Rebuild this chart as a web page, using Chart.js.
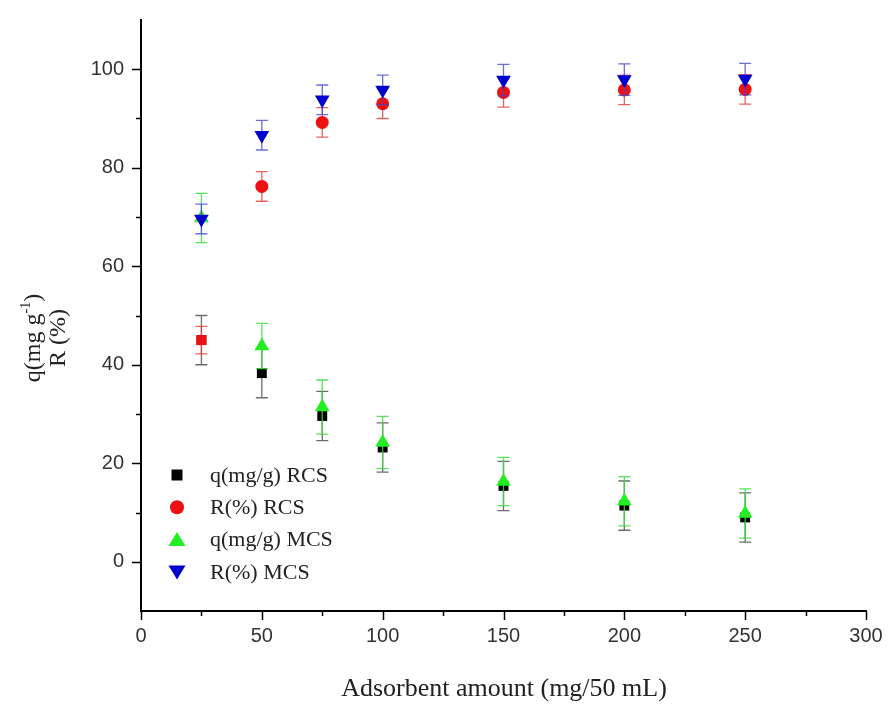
<!DOCTYPE html>
<html>
<head>
<meta charset="utf-8">
<script src="https://cdn.jsdelivr.net/npm/chart.js@4.4.1/dist/chart.umd.min.js"></script>
<style>
  html, body { margin: 0; padding: 0; background: #fff; }
  #wrap { width: 893px; height: 706px; }
</style>
</head>
<body>
<div id="wrap"><canvas id="adsChart" width="893" height="706"></canvas></div>
<script>
// Adsorbent dose (mg / 50 mL)
const doses = [25, 50, 75, 100, 150, 200, 250];

// RCS series
const qRCS = [45, 38.3, 29.6, 23.2, 15.4, 11.4, 9.0];
const qRCSErr = [5, 5, 5, 5, 5, 5, 5];
const rRCS = [45, 76.2, 89.2, 93.0, 95.3, 95.8, 95.9];
const rRCSErr = [2.8, 3, 3, 3, 3, 3, 3];

// MCS series
const qMCS = [69.8, 43.8, 31.4, 24.2, 16.3, 12.3, 9.8];
const qMCSErr = [5, 4.6, 5.5, 5.3, 4.9, 5, 5];
const rMCS = [69.6, 86.6, 93.8, 95.8, 97.8, 97.9, 98.0];
const rMCSErr = [3, 3, 3, 3, 3.2, 3.2, 3.2];

const yTicks = [0, 20, 40, 60, 80, 100];
const xTicks = [0, 50, 100, 150, 200, 250, 300];

const SERIF = '"Liberation Serif", "Times New Roman", serif';
const SANS = '"Liberation Sans", Arial, sans-serif';

function pts(vals) {
    return doses.map((x, i) => ({ x: x, y: vals[i] }));
}

// Error bars under each dataset's markers
const errorBars = {
    id: 'errorBars',
    beforeDatasetDraw(chart, args) {
        const ds = chart.data.datasets[args.index];
        if (!ds.errors) return;
        const ctx = chart.ctx;
        const ys = chart.scales.y;
        ctx.save();
        ctx.strokeStyle = ds.errorColor;
        ctx.lineWidth = 1.3;
        args.meta.data.forEach((el, i) => {
            const v = ds.data[i].y;
            const e = ds.errors[i];
            const top = ys.getPixelForValue(v + e);
            const bot = ys.getPixelForValue(v - e);
            const x = el.x;
            ctx.beginPath();
            ctx.moveTo(x, top); ctx.lineTo(x, bot);
            ctx.moveTo(x - 6, top); ctx.lineTo(x + 6, top);
            ctx.moveTo(x - 6, bot); ctx.lineTo(x + 6, bot);
            ctx.stroke();
        });
        ctx.restore();
    }
};

function drawMarker(ctx, style, x, y, color) {
    ctx.fillStyle = color;
    ctx.beginPath();
    if (style === 'rect') {
        ctx.rect(x - 5.5, y - 5.5, 11, 11);
    } else if (style === 'circle') {
        ctx.arc(x, y, 7, 0, Math.PI * 2);
    } else if (style === 'up') {
        ctx.moveTo(x - 8.5, y + 6.5); ctx.lineTo(x + 8.5, y + 6.5); ctx.lineTo(x, y - 7.5);
    } else {
        ctx.moveTo(x - 8.5, y - 6.5); ctx.lineTo(x + 8.5, y - 6.5); ctx.lineTo(x, y + 7.5);
    }
    ctx.closePath();
    ctx.fill();
}

// Axis ticks, titles and the in-plot legend
const decorations = {
    id: 'decorations',
    afterDraw(chart) {
        const ctx = chart.ctx;
        const xs = chart.scales.x, ys = chart.scales.y;
        const area = chart.chartArea;
        ctx.save();
        ctx.strokeStyle = '#000';
        ctx.lineWidth = 1.5;
        ctx.beginPath();
        for (let v = 0; v <= 100; v += 10) {
            const py = Math.round(ys.getPixelForValue(v)) + 0.5;
            const len = v % 20 === 0 ? 9 : 5;
            ctx.moveTo(area.left - len, py); ctx.lineTo(area.left, py);
        }
        for (let v = 0; v <= 300; v += 25) {
            const px = Math.round(xs.getPixelForValue(v)) + 0.5;
            const len = v % 50 === 0 ? 9 : 5;
            ctx.moveTo(px, area.bottom); ctx.lineTo(px, area.bottom + len);
        }
        ctx.stroke();

        // x title
        ctx.fillStyle = '#222';
        ctx.font = '26px ' + SERIF;
        ctx.textAlign = 'center';
        ctx.textBaseline = 'alphabetic';
        ctx.fillText('Adsorbent amount (mg/50 mL)', 504, 696);

        // y title, two rotated lines
        ctx.save();
        ctx.translate(40, 338);
        ctx.rotate(-Math.PI / 2);
        const a = 'q(mg g', sup = '-1', b = ')';
        ctx.font = '24px ' + SERIF;
        const wa = ctx.measureText(a).width, wb = ctx.measureText(b).width;
        ctx.font = '14px ' + SERIF;
        const ws = ctx.measureText(sup).width;
        const sx = -(wa + ws + wb) / 2;
        ctx.textAlign = 'left';
        ctx.font = '24px ' + SERIF;
        ctx.fillText(a, sx, 0);
        ctx.font = '14px ' + SERIF;
        ctx.fillText(sup, sx + wa, -10);
        ctx.font = '24px ' + SERIF;
        ctx.fillText(b, sx + wa + ws, 0);
        ctx.textAlign = 'center';
        ctx.fillText('R (%)', 0, 25);
        ctx.restore();

        // legend
        const legend = [
            ['rect', '#000', 'q(mg/g) RCS'],
            ['circle', '#ee1111', 'R(%) RCS'],
            ['up', '#22ee22', 'q(mg/g) MCS'],
            ['down', '#0000cc', 'R(%) MCS']
        ];
        ctx.font = '22px ' + SERIF;
        ctx.textAlign = 'left';
        ctx.textBaseline = 'middle';
        legend.forEach((row, i) => {
            const ly = 475 + i * 32.3;
            drawMarker(ctx, row[0], 177, ly, row[1]);
            ctx.fillStyle = '#222';
            ctx.fillText(row[2], 210, ly + 1);
        });
        ctx.restore();
    }
};

const ctx = document.getElementById('adsChart').getContext('2d');
new Chart(ctx, {
    type: 'scatter',
    data: {
        datasets: [
            {
                label: 'q(mg/g) RCS', data: pts(qRCS), errors: qRCSErr, errorColor: 'rgba(60,60,60,0.75)',
                pointStyle: 'rect', pointRadius: 7, backgroundColor: '#000', borderWidth: 0, order: 4
            },
            {
                label: 'R(%) RCS', data: pts(rRCS), errors: rRCSErr, errorColor: 'rgba(220,60,60,0.8)',
                pointStyle: ['rect', 'circle', 'circle', 'circle', 'circle', 'circle', 'circle'],
                pointRadius: [7, 6.5, 6.5, 6.5, 6.5, 6.5, 6.5], backgroundColor: '#ee1111', borderWidth: 0, order: 3
            },
            {
                label: 'q(mg/g) MCS', data: pts(qMCS), errors: qMCSErr, errorColor: 'rgba(60,220,60,0.85)',
                pointStyle: 'triangle', pointRadius: 8.5, backgroundColor: '#22ee22', borderWidth: 0, order: 2
            },
            {
                label: 'R(%) MCS', data: pts(rMCS), errors: rMCSErr, errorColor: 'rgba(70,70,210,0.8)',
                pointStyle: 'triangle', rotation: 180, pointRadius: 8.5, backgroundColor: '#0000cc', borderWidth: 0, order: 1
            }
        ]
    },
    options: {
        responsive: false,
        animation: false,
        layout: { padding: { top: 17, right: 27, left: 0, bottom: 0 } },
        plugins: { legend: { display: false }, tooltip: { enabled: false } },
        scales: {
            x: {
                type: 'linear', min: 0, max: 300,
                afterFit: s => { s.height = 95; },
                afterBuildTicks: s => { s.ticks = xTicks.map(v => ({ value: v })); },
                grid: { drawOnChartArea: false, drawTicks: true, tickLength: 9, tickColor: 'rgba(0,0,0,0)' },
                border: { color: '#000', width: 2 },
                ticks: { color: '#333', font: { family: SANS, size: 20 }, padding: 4, maxRotation: 0 }
            },
            y: {
                type: 'linear', min: -10, max: 110,
                afterFit: s => { s.width = 141; },
                afterBuildTicks: s => { s.ticks = yTicks.map(v => ({ value: v })); },
                grid: { drawOnChartArea: false, drawTicks: true, tickLength: 9, tickColor: 'rgba(0,0,0,0)' },
                border: { color: '#000', width: 2 },
                ticks: { color: '#333', font: { family: SANS, size: 20 }, padding: 8 }
            }
        }
    },
    plugins: [errorBars, decorations]
});
</script>
</body>
</html>
